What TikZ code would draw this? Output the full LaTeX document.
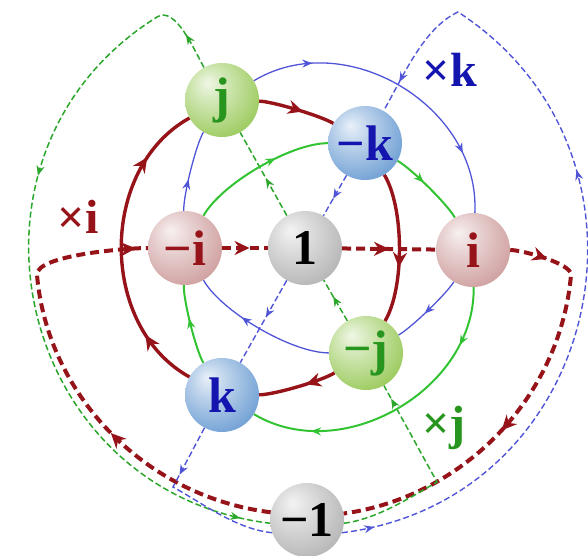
\documentclass[tikz,border=0pt]{standalone}
\usepackage{fontspec}
\setmainfont{Liberation Serif}
\usepackage{tikz}
\usetikzlibrary{arrows.meta, decorations.markings}

\definecolor{ired}{RGB}{150,20,25}
\definecolor{jgreen}{RGB}{50,195,50}
\definecolor{jtext}{RGB}{40,150,30}
\definecolor{kblue}{RGB}{80,85,215}
\definecolor{ktext}{RGB}{20,20,175}
\definecolor{onec}{RGB}{178,178,178}
\definecolor{ic}{RGB}{205,155,155}
\definecolor{jc}{RGB}{150,200,85}
\definecolor{kc}{RGB}{105,155,210}

% soft shaded balls
\newcommand{\declareball}[2]{\pgfdeclareradialshading{#1}{\pgfpoint{-10bp}{12bp}}{color(0bp)=(#2!15!white); color(12bp)=(#2!45!white); color(36bp)=(#2); color(58bp)=(#2!75!black); color(70bp)=(#2!60!black)}}
\declareball{oneshade}{onec}
\declareball{ishade}{ic}
\declareball{jshade}{jc}
\declareball{kshade}{kc}

\begin{document}
\begin{tikzpicture}[x=1pt, y=1pt,
    ball/.style={circle, minimum size=74pt, inner sep=0pt, shade, font=\fontsize{50}{50}\selectfont\bfseries},
    oneball/.style={ball, shading=oneshade, text=black},
    iball/.style={ball, shading=ishade, text=ired},
    jball/.style={ball, shading=jshade, text=jtext},
    kball/.style={ball, shading=kshade, text=ktext},
    xi/.style={draw=ired, line width=3.4pt, >={Stealth[length=15pt,width=14pt]}},
    xidash/.style={xi, line width=4pt, dash pattern=on 9pt off 5pt},
    xj/.style={draw=jgreen, line width=2pt, >={Stealth[length=10pt,width=8pt]}},
    xjdash/.style={xj, draw=jgreen!85!black, line width=1.5pt, dash pattern=on 6pt off 3pt},
    xk/.style={draw=kblue, line width=1.3pt, >={Stealth[length=10pt,width=8pt]}},
    xkdash/.style={xk, line width=1.4pt, dash pattern=on 6pt off 3pt},
    arrowat/.style={postaction={decorate, decoration={markings, mark=at position #1 with {\arrow{>}}}}},
    mult/.style={font=\fontsize{48}{48}\selectfont\bfseries}
]
\useasboundingbox (0,0) rectangle (588,555);

% the eight elements
\node[oneball] (one) at (305,307) {1};
\node[oneball] (mone) at (307,35) {−1};
\node[iball] (i) at (473,305) {i};
\node[iball] (mi) at (185,307) {−i};
\node[jball] (j) at (222,455) {j};
\node[jball] (mj) at (366,202) {−j};
\node[kball] (k) at (222,160) {k};
\node[kball] (mk) at (365,412) {−k};

% corners of the outer loops
\coordinate (rl) at (37,280);
\coordinate (rr) at (571,280);
\coordinate (gtop) at (157,538);
\coordinate (gbr) at (437,73);
\coordinate (btop) at (458,543);
\coordinate (kbr) at (173,68);

\begin{scope}[on background layer/.try]
% times i
\draw[xidash, arrowat=0.975, arrowat=0.38] (mone.168) to[out=173, in=-85, looseness=0.95] (rl) to[out=95, in=180, looseness=0.45] (mi);
\draw[xidash, arrowat=0.6] (mi) -- (one);
\draw[xidash, arrowat=0.5] (one) -- (i);
\draw[xidash, arrowat=0.09, arrowat=0.57] (i) to[out=0, in=85, looseness=0.45] (rr) to[out=-95, in=8, looseness=0.95] (mone.10);
\draw[xi, arrowat=0.58] (j) to[bend left=15, looseness=0.46] (mk);
\draw[xi, arrowat=0.63] (mk) to[bend left=31, looseness=0.67] (mj);
\draw[xi, arrowat=0.39] (mj) to[bend left=16, looseness=0.48] (k);
\draw[xi, arrowat=0.2, arrowat=0.81] (k) to[bend left=61, looseness=1.03] (j);

% times j
\draw[xjdash, arrowat=0.05, arrowat=0.37, arrowat=0.96] (j) to[out=119, in=32, looseness=0.8] (gtop) to[out=212, in=173, looseness=1.27] (mone.185);
\draw[xjdash, arrowat=0.93] (mone.-5) to[out=8, in=210, looseness=0.85] (gbr) -- (mj);
\draw[xjdash, arrowat=0.6] (mj) -- (one);
\draw[xjdash, arrowat=0.45] (one) -- (j);
\draw[xj, arrowat=0.63] (mi) to[bend left=30, looseness=0.66] (mk);
\draw[xj, arrowat=0.42] (mk) to[bend left=16, looseness=0.48] (i);
\draw[xj, arrowat=0.2, arrowat=0.8] (i) to[bend left=61, looseness=1.03] (k);
\draw[xj, arrowat=0.58] (k) to[bend left=16, looseness=0.48] (mi);

% times k
\draw[xkdash, arrowat=0.45] (one) -- (k);
\draw[xkdash, arrowat=0.3] (k) -- (kbr) to[out=-29, in=174, looseness=0.85] (mone.200);
\draw[xkdash, arrowat=0.04, arrowat=0.6, arrowat=0.96] (mone.-20) to[out=7, in=-33, looseness=1.26] (btop) to[out=205, in=60, looseness=0.8] (mk);
\draw[xkdash, arrowat=0.58] (mk) -- (one);
\draw[xk, arrowat=0.2, arrowat=0.8] (j) to[bend left=62, looseness=1.06] (i);
\draw[xk, arrowat=0.56] (i) to[bend left=15, looseness=0.46] (mj);
\draw[xk, arrowat=0.64] (mj) to[bend left=30, looseness=0.65] (mi);
\draw[xk, arrowat=0.39] (mi) to[bend left=16, looseness=0.48] (j);
\end{scope}

% labels
\node[mult, text=ired] (lxi) at (78,338) {×i};
\node[mult, text=ktext] (lxk) at (450,485) {×k};
\node[mult, text=jtext] (lxj) at (444,127) {×j};
\end{tikzpicture}
\end{document}
